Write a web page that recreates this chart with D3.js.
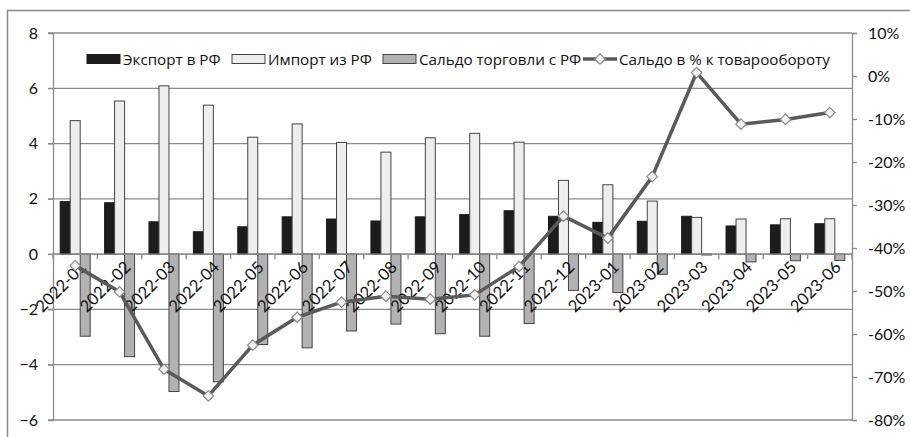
<!DOCTYPE html>
<html>
<head>
<meta charset="utf-8">
<script src="https://cdn.jsdelivr.net/npm/d3@7"></script>
<style>
  body { margin: 0; background: #fff; }
  svg text { font-family: Lato, "Open Sans", sans-serif; fill: #111; }
  svg .legend text { font-family: "Open Sans", sans-serif; }
</style>
</head>
<body>
<div id="chart"></div>
<script>
var months = ['2022-01', '2022-02', '2022-03', '2022-04', '2022-05', '2022-06',
  '2022-07', '2022-08', '2022-09', '2022-10', '2022-11', '2022-12',
  '2023-01', '2023-02', '2023-03', '2023-04', '2023-05', '2023-06'];
var exportRF = [1.90, 1.86, 1.17, 0.81, 0.99, 1.35, 1.27, 1.20, 1.35, 1.43, 1.57, 1.37,
  1.15, 1.19, 1.37, 1.02, 1.06, 1.10];
var importRF = [4.83, 5.54, 6.09, 5.39, 4.23, 4.71, 4.04, 3.69, 4.21, 4.37, 4.05, 2.67,
  2.51, 1.92, 1.33, 1.27, 1.28, 1.28];
var saldo = [-2.97, -3.71, -4.97, -4.62, -3.27, -3.39, -2.78, -2.53, -2.88, -2.97, -2.51, -1.31,
  -1.39, -0.73, -0.03, -0.28, -0.24, -0.23];
var saldoPct = [-44.1, -50.2, -68.2, -74.4, -62.6, -56.1, -52.6, -51.2, -51.9, -50.9, -44.3, -32.6,
  -37.7, -23.4, 0.8, -11.2, -10.1, -8.5];
var leftTicks = [-6, -4, -2, 0, 2, 4, 6, 8];
var rightTicks = [-80, -70, -60, -50, -40, -30, -20, -10, 0, 10];
var legendLabels = ['Экспорт в РФ', 'Импорт из РФ', 'Сальдо торговли с РФ', 'Сальдо в % к товарообороту'];

var W = 910, H = 437;
var plotL = 53, plotR = 852, plotT = 33, plotB = 420;
var barColors = ['#1c1c1c', '#eeeeee', '#b2b2b2'];
var gridColor = '#8c8c8c';

var svg = d3.select('#chart').append('svg')
  .attr('width', W).attr('height', H);

// frame (only top and left are visible in the picture)
svg.append('path')
  .attr('d', 'M7.5 437 L7.5 10.5 L910 10.5')
  .attr('fill', 'none').attr('stroke', '#8a8a8a').attr('stroke-width', 1.5);

var x = d3.scaleBand().domain(months).range([plotL, plotR]);
var series = ['exp', 'imp', 'sal'];
var x1 = d3.scaleBand().domain(series).range([0, x.bandwidth()]).paddingOuter(0.72);
var y = d3.scaleLinear().domain([-6, 8]).range([plotB, plotT]);
var y2 = d3.scaleLinear().domain([-80, 10]).range([plotB, plotT]);

// gridlines
svg.append('g').selectAll('line').data(leftTicks).enter().append('line')
  .attr('x1', plotL - 5).attr('x2', plotR)
  .attr('y1', d => y(d)).attr('y2', d => y(d))
  .attr('stroke', gridColor).attr('stroke-width', 1.3);

// left axis
var gl = svg.append('g').attr('transform', 'translate(' + plotL + ',0)')
  .call(d3.axisLeft(y).tickValues(leftTicks).tickSize(5).tickPadding(10).tickFormat(d3.format('d')));
gl.select('.domain').attr('stroke', gridColor).attr('stroke-width', 1.3);
gl.selectAll('.tick line').attr('stroke', gridColor);
gl.selectAll('text').style('font-size', '16px').attr('fill', '#111');

// right axis
var gr = svg.append('g').attr('transform', 'translate(' + plotR + ',0)')
  .call(d3.axisRight(y2).tickValues(rightTicks).tickSize(5).tickPadding(11).tickFormat(d => d + '%'));
gr.select('.domain').attr('stroke', gridColor).attr('stroke-width', 1.3);
gr.selectAll('.tick line').attr('stroke', gridColor).attr('stroke-width', 1.3);
gr.selectAll('text').style('font-size', '16px').attr('fill', '#111');

// bars
var rows = months.map((m, i) => ({ m: m, vals: [exportRF[i], importRF[i], saldo[i]] }));
var groups = svg.append('g').selectAll('g').data(rows).enter().append('g')
  .attr('transform', d => 'translate(' + x(d.m) + ',0)');
groups.selectAll('rect').data(d => d.vals.map((v, j) => ({ k: series[j], v: v, j: j })))
  .enter().append('rect')
  .attr('x', d => x1(d.k))
  .attr('width', x1.bandwidth())
  .attr('y', d => Math.min(y(d.v), y(0)))
  .attr('height', d => Math.abs(y(d.v) - y(0)))
  .attr('fill', d => barColors[d.j])
  .attr('stroke', d => d.j == 0 ? '#1c1c1c' : '#444')
  .attr('stroke-width', 1);

// x axis at zero
var gx = svg.append('g').attr('transform', 'translate(0,' + y(0) + ')');
gx.append('line').attr('x1', plotL).attr('x2', plotR)
  .attr('stroke', gridColor).attr('stroke-width', 1.3);
gx.selectAll('.tk').data(months.concat(['end'])).enter().append('line')
  .attr('x1', (d, i) => plotL + i * x.step()).attr('x2', (d, i) => plotL + i * x.step())
  .attr('y1', 0).attr('y2', 5).attr('stroke', gridColor).attr('stroke-width', 1.3);

// x labels (under the line, like in the picture)
svg.append('g').selectAll('text').data(months).enter().append('text')
  .attr('transform', d => 'translate(' + (x(d) + x.bandwidth() / 2 + 4) + ',' + (y(0) + 6) + ') rotate(-45)')
  .attr('text-anchor', 'end')
  .attr('dy', '0.7em')
  .style('font-size', '16.5px')
  .text(d => d);

// line
var line = d3.line()
  .x((d, i) => x(months[i]) + x.bandwidth() / 2)
  .y(d => y2(d));
svg.append('path').datum(saldoPct)
  .attr('d', line).attr('fill', 'none')
  .attr('stroke', '#5a5a5a').attr('stroke-width', 3.5).attr('stroke-linejoin', 'round');

var diamond = d3.symbol().type(d3.symbolDiamond2).size(70);
svg.append('g').selectAll('path').data(saldoPct).enter().append('path')
  .attr('d', diamond)
  .attr('transform', (d, i) => 'translate(' + (x(months[i]) + x.bandwidth() / 2) + ',' + y2(d) + ')')
  .attr('fill', '#f2f2f2').attr('stroke', '#8a8a8a').attr('stroke-width', 1.2);

// legend
var lg = svg.append('g').attr('class', 'legend');
var lx = [87, 232, 383, 583];
[0, 1, 2].forEach(function (i) {
  lg.append('rect').attr('x', lx[i]).attr('y', 54.5).attr('width', 33).attr('height', 9)
    .attr('fill', barColors[i]).attr('stroke', i == 0 ? '#1c1c1c' : '#444');
  lg.append('text').attr('x', lx[i] + 36).attr('y', 64.5).style('font-size', '15.2px').text(legendLabels[i]);
});
lg.append('line').attr('x1', lx[3]).attr('x2', lx[3] + 34).attr('y1', 59).attr('y2', 59)
  .attr('stroke', '#5a5a5a').attr('stroke-width', 3.5);
lg.append('path').attr('d', diamond).attr('transform', 'translate(' + (lx[3] + 17) + ',59)')
  .attr('fill', '#f2f2f2').attr('stroke', '#8a8a8a').attr('stroke-width', 1.2);
lg.append('text').attr('x', lx[3] + 36).attr('y', 64.5).style('font-size', '15.2px').text(legendLabels[3]);
</script>
</body>
</html>
